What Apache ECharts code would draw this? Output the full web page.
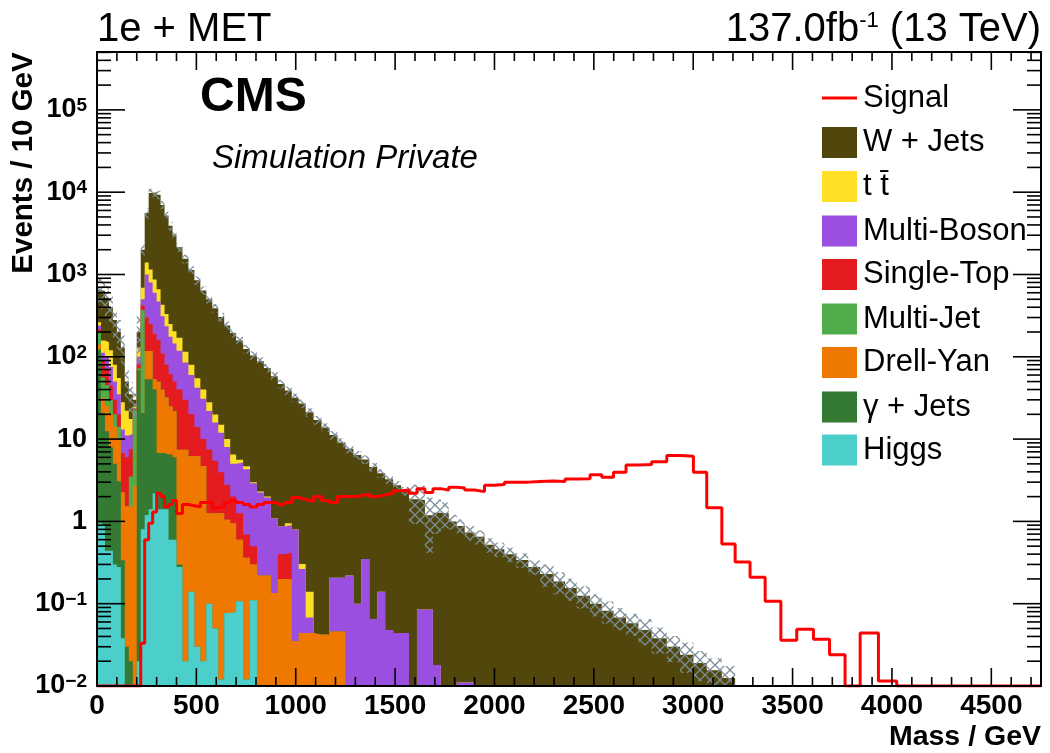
<!DOCTYPE html>
<html><head><meta charset="utf-8">
<script src="https://cdn.jsdelivr.net/npm/echarts@6/dist/echarts.min.js"></script>
<style>html,body{margin:0;padding:0;background:#fff}#c{width:1050px;height:753px}</style>
</head><body><div id="c"></div>
<script>
// ---------------- DATA ----------------
const EDGES = [0,20,40,60,80,100,120,140,160,180,200,220,240,260,280,300,320,340,360,380,400,
  430,460,490,520,550,580,610,640,670,700,735,770,805,840,875,910,945,980,1015,1050,
  1090,1130,1170,1210,1250,1290,1330,1370,1410,1450,1490,1530,1570,1610,1650,1690,1730,1770,1810,1850,
  1900,1950,2000,2050,2110,2170,2230,
  2297,2355,2414,2481,2540,2599,2662,2724,2791,2867,2934,3001,3068,3144,3211,3286,3362,3441,3521,3605,3686,3764,3840,3932,4024,4750];

const WJETS = [387,472,370,280,200,145,102,28,17.5,5.3,
  70,1310,4200,8650,9130,8640,6570,4870,3650,2795,
  1980,1435,1050,795,600,472,370,290,230,188,
  152,120,101,85.7,71,57,46,38,31,26.7,
  21,17,13.8,11,8.9,7.4,6.3,5.3,4.5,3.7,
  3.2,2.7,2.3,1.86,1.74,1.1,1.26,1.26,1.0,0.87,
  0.72,0.65,0.52,0.46,0.40,0.34,0.28,0.23,0.186,0.155,
  0.125,0.10,0.082,0.068,0.058,0.048,0.038,0.030,0.024,0.019,
  0.0155,0.0125];
const TTBAR = [23,46,50,45,30,20,15,11,6,1,
  30,190,400,350,270,190,120,95,75,60,
  52,30,20,13,9,6,4,3,2,1.5,
  0.4,0.4,0.1,0.05,0.05,0,0,0.05,0,0.04,
  0.072];
const MULTIBOSON = [26,23,30,30,20,15,6.3,5,4,0.5,
  20,80,700,550,410,310,200,155,113,95,
  78,55,40,28,21,14.5,10.5,8,5.2,3,
  3.94,3.6,2.4,2.03,1.73,0.96,0.47,0.48,0.76,0.22,
  0.024,0,0,0.16,0.16,0.22,0.1,0.35,0.065,0.14,
  0.048,0.044,0.044,0,0.085,0.085,0.018,0,0,0.011,
  0.011];
const SINGLETOP = [19,33,25,15,10,6,4.5,4.5,4,0.5,
  8,50,183,133,137,110,70,48,37,28,
  32.6,22.6,13.8,7.8,5.3,6.2,4.2,2.7,1.75,1.05,
  0.66,0.33,0.2,0,0,0,0.2,0.22];
const MULTIJET = [54,24,20,10,6,4,0,0,2,20,
  3,350];
const DRELLYAN = [18,11,13,12,9,7,1.9,1.5,1.5,2.7,
  0,0,64,64,13,43,33,25.5,18.5,16,
  7.1,7.4,6.05,6.2,4.7,1.16,1.21,1.25,0.97,0.87,
  0.49,0.35,0.19,0.22,0.22,0.135,0.2,0.2,0.035,0.044,
  0.044,0.042,0.042,0.046,0.046];
const GJETS = [122,20,12,7.5,4.7,2.8,0.3,0.03,0.02,0,
  69,20,52,52,38,5.4,5.4,5.1,5.9,5.4,
  0.02];
const HIGGS = [0.95,0.9,0.44,0.44,0.3,0.28,0.038,0,0,0,
  0.02,0.8,1.2,1.4,2.2,1.4,1.4,1.4,0.6,0.6,
  0.28,0.02,0.14,0.03,0.02,0.1,0.05,0.012,0.077,0.08,
  0.107,0.012,0.11];
const SIGNAL = [0,0,0,0,0,0,0,0,0,0,
  0,0.033,0.6,0.95,1.3,2.2,2.0,1.5,1.6,1.8,
  1.25,1.6,1.55,1.5,1.7,1.7,1.45,1.5,1.7,1.8,
  1.7,1.6,1.5,1.6,1.7,1.7,1.6,1.7,1.95,1.85,
  1.75,2.0,1.8,1.7,2.0,2.0,2.05,2.15,2.0,2.1,
  2.2,2.35,2.4,2.2,2.5,2.25,2.5,2.4,2.6,2.55,
  2.4,2.3,2.75,2.8,3.0,3.0,3.05,3.1,3.05,3.27,
  3.3,3.7,3.45,3.95,4.85,4.9,5.3,6.3,6.2,3.95,
  1.46,0.53,0.32,0.21,0.107,0.036,0.049,0.037,0.024,0,
  0.044,0.0115,0];
// relative MC uncertainty per bin (hatched band)
const REL_ERR = [0.4,0.4,0.4,0.4,0.4,0.4,0.4,0.4,0.4,0.4,
  0.6,0.15,0.15,0.12,0.12,0.12,0.12,0.12,0.12,0.12,
  0.12,0.12,0.12,0.12,0.12,0.12,0.12,0.12,0.12,0.12,
  0.12,0.12,0.12,0.12,0.12,0.12,0.12,0.12,0.12,0.12,
  0.12,0.12,0.12,0.12,0.12,0.12,0.12,0.12,0.12,0.12,
  0.12,0.12,0.12,0.5,0.5,0.65,0.45,0.35,0.2,0.2,
  0.2,0.2,0.2,0.2,0.2,0.2,0.2,0.3,0.3,0.3,
  0.3,0.3,0.3,0.3,0.3,0.35,0.35,0.35,0.4,0.4,
  0.4,0.4];
const X_LABELS = [0,500,1000,1500,2000,2500,3000,3500,4000,4500];
const Y_LABEL_EXPONENTS = [-2,-1,0,1,2,3,4,5];

// ---------------- SETTINGS ----------------
const XMAX = 4750, YMIN = 0.01, YMAX = 5.05e5;
const FONT = '"Liberation Sans", Arial, Helvetica, sans-serif';
const STACK = [ // bottom -> top
  {name:'Higgs', v:HIGGS, color:'#4ccfca'},
  {name:'\u03b3 + Jets', v:GJETS, color:'#357a32'},
  {name:'Drell-Yan', v:DRELLYAN, color:'#ef7800'},
  {name:'Multi-Jet', v:MULTIJET, color:'#4fae4a'},
  {name:'Single-Top', v:SINGLETOP, color:'#e41c1f'},
  {name:'Multi-Boson', v:MULTIBOSON, color:'#9a4fe0'},
  {name:'t t\u0304', v:TTBAR, color:'#fde025'},
  {name:'W + Jets', v:WJETS, color:'#51470c'}
];
const NB = EDGES.length - 1;
const cums = [];
let run = new Array(NB).fill(0);
STACK.forEach(s => { run = run.map((r, i) => r + (s.v[i] || 0)); cums.push(run.slice()); });
const TOTAL = cums[cums.length - 1];

function stepPts(vals, floor) {
  const pts = [];
  for (let i = 0; i < NB; i++) {
    const y = (vals[i] || 0) > 0 ? vals[i] : floor;
    pts.push([EDGES[i], y], [EDGES[i + 1], y]);
  }
  return pts;
}

// hatch pattern for the uncertainty band
const hatch = document.createElement('canvas');
hatch.width = 10; hatch.height = 10;
const hc = hatch.getContext('2d');
hc.strokeStyle = '#7b8e9b'; hc.lineWidth = 1.3;
hc.beginPath(); hc.moveTo(0, 0); hc.lineTo(10, 10); hc.moveTo(10, 0); hc.lineTo(0, 10); hc.stroke();

const series = [];
for (let k = STACK.length - 1; k >= 0; k--) {
  series.push({
    type: 'line', name: STACK[k].name, data: stepPts(cums[k], YMIN * 1e-3),
    showSymbol: false, symbol: 'none', silent: true, z: 2,
    lineStyle: {width: 0, color: STACK[k].color},
    areaStyle: {color: STACK[k].color, opacity: 1, origin: 'start'},
    itemStyle: {color: STACK[k].color}
  });
}
// band
const bandData = [];
for (let i = 0; i < NB; i++) {
  if (TOTAL[i] > 0) bandData.push([EDGES[i], EDGES[i + 1], TOTAL[i] * (1 - REL_ERR[i]), TOTAL[i] * (1 + REL_ERR[i])]);
}
series.push({
  type: 'custom', silent: true, z: 3, data: bandData, encode: {x: [0, 1], y: [2, 3]},
  renderItem: (params, api) => {
    const lo = Math.max(api.value(2), YMIN), hi = Math.min(api.value(3), YMAX);
    if (hi <= YMIN) return null;
    const a = api.coord([api.value(0), lo]), b = api.coord([api.value(1), hi]);
    return {type: 'rect', shape: {x: a[0], y: b[1], width: b[0] - a[0], height: a[1] - b[1]},
      style: {fill: {image: hatch, repeat: 'repeat'}}};
  }
});
// signal
series.push({
  type: 'line', name: 'Signal', data: stepPts(SIGNAL, YMIN), showSymbol: false, symbol: 'none',
  silent: true, z: 4, lineStyle: {width: 3, color: '#ff0000'}
});
// ticks + frame
const tickData = [];
for (let x = 0; x < XMAX; x += 100) tickData.push([x, 1, 0, x % 500 === 0 ? 1 : 0]);
for (let e = -2; e <= 5; e++) {
  tickData.push([0, Math.pow(10, e), 1, 1]);
  for (let m = 2; m <= 9; m++) { const v = m * Math.pow(10, e); if (v < YMAX) tickData.push([0, v, 1, 0]); }
}
tickData.push([0, 1, 2, 0]);
series.push({
  type: 'custom', silent: true, z: 10, data: tickData, encode: {x: 0, y: 1},
  renderItem: (params, api) => {
    const cs = params.coordSys, kind = api.value(2), major = api.value(3);
    const st = {stroke: '#000', lineWidth: 1.6};
    if (kind === 2) {
      return {type: 'rect', shape: {x: cs.x, y: cs.y, width: cs.width, height: cs.height},
        style: {fill: null, stroke: '#000', lineWidth: 2}};
    }
    if (kind === 0) {
      const px = api.coord([api.value(0), 1])[0], L = major ? 18 : 9;
      const yb = cs.y + cs.height, yt = cs.y;
      return {type: 'group', children: [
        {type: 'line', shape: {x1: px, y1: yb, x2: px, y2: yb - L}, style: st},
        {type: 'line', shape: {x1: px, y1: yt, x2: px, y2: yt + L}, style: st}]};
    }
    const py = api.coord([0, api.value(1)])[1], L = major ? 28 : 14;
    const xl = cs.x, xr = cs.x + cs.width;
    return {type: 'group', children: [
      {type: 'line', shape: {x1: xl, y1: py, x2: xl + L, y2: py}, style: st},
      {type: 'line', shape: {x1: xr, y1: py, x2: xr - L, y2: py}, style: st}]};
  }
});

// legend via graphic
const LEG = [
  {name: 'Signal', line: '#ff0000', y: 98},
  {name: 'W + Jets', color: '#51470c', y: 142.5},
  {name: 't t\u0304', color: '#fde025', y: 186.5},
  {name: 'Multi-Boson', color: '#9a4fe0', y: 231},
  {name: 'Single-Top', color: '#e41c1f', y: 274.5},
  {name: 'Multi-Jet', color: '#4fae4a', y: 319},
  {name: 'Drell-Yan', color: '#ef7800', y: 362.5},
  {name: '\u03b3 + Jets', color: '#357a32', y: 407},
  {name: 'Higgs', color: '#4ccfca', y: 450}
];
const graphic = [];
LEG.forEach(l => {
  if (l.line) graphic.push({type: 'line', shape: {x1: 822, y1: l.y, x2: 857, y2: l.y}, style: {stroke: l.line, lineWidth: 3}, z: 20});
  else graphic.push({type: 'rect', shape: {x: 822, y: l.y - 15.5, width: 35, height: 31}, style: {fill: l.color}, z: 20});
  graphic.push({type: 'text', x: 863, y: l.y, z: 20,
    style: {text: l.name, font: '31px ' + FONT, fill: '#000', textAlign: 'left', textVerticalAlign: 'middle', align: 'left', verticalAlign: 'middle'}});
});
graphic.push(
  {type: 'text', x: 97, y: 30, z: 20, style: {text: '1e + MET', font: '40px ' + FONT, fill: '#000', textAlign: 'left', textVerticalAlign: 'middle', align: 'left', verticalAlign: 'middle'}},
  {type: 'text', x: 1041, y: 30, z: 20, style: {text: '137.0fb{s|-1} (13 TeV)', font: '40px ' + FONT, fill: '#000', textAlign: 'right', textVerticalAlign: 'middle', align: 'right', verticalAlign: 'middle',
    rich: {s: {fontSize: 22, fontFamily: FONT, verticalAlign: 'top', fill: '#000'}}}},
  {type: 'text', x: 200, y: 97.5, z: 20, style: {text: 'CMS', font: 'bold 48px ' + FONT, fill: '#000', textAlign: 'left', textVerticalAlign: 'middle', align: 'left', verticalAlign: 'middle'}},
  {type: 'text', x: 212, y: 158.5, z: 20, style: {text: 'Simulation Private', font: 'italic 33px ' + FONT, fill: '#000', textAlign: 'left', textVerticalAlign: 'middle', align: 'left', verticalAlign: 'middle'}},
  {type: 'text', x: 1041, y: 737, z: 20, style: {text: 'Mass / GeV', font: 'bold 28.5px ' + FONT, fill: '#000', textAlign: 'right', textVerticalAlign: 'middle', align: 'right', verticalAlign: 'middle'}},
  {type: 'text', x: 24, y: 163, rotation: Math.PI / 2, z: 20, style: {text: 'Events / 10 GeV', font: 'bold 29.5px ' + FONT, fill: '#000', textAlign: 'center', textVerticalAlign: 'middle', align: 'center', verticalAlign: 'middle'}}
);

const chart = echarts.init(document.getElementById('c'), null, {renderer: 'canvas'});
chart.setOption({
  animation: false,
  backgroundColor: '#ffffff',
  grid: {left: 97, top: 52, right: 9, bottom: 67, containLabel: false, show: false},
  xAxis: {type: 'value', min: 0, max: XMAX, interval: 500,
    axisLine: {show: false}, axisTick: {show: false}, splitLine: {show: false},
    axisLabel: {formatter: v => (X_LABELS.indexOf(v) >= 0 ? String(v) : ''), fontFamily: FONT, fontWeight: 'bold', fontSize: 28, color: '#000', margin: 6}},
  yAxis: {type: 'log', logBase: 10, min: YMIN, max: YMAX,
    axisLine: {show: false}, axisTick: {show: false}, splitLine: {show: false}, minorTick: {show: false},
    axisLabel: {
      margin: 10, color: '#000',
      formatter: v => {
        const e = Math.round(Math.log10(v));
        if (Math.abs(Math.log10(v) - e) > 1e-6 || Y_LABEL_EXPONENTS.indexOf(e) < 0) return '';
        if (e === 0) return '{b|1}';
        if (e === 1) return '{b|10}';
        return '{b|10}{s|' + (e < 0 ? '\u2212' + (-e) : e) + '}';
      },
      rich: {
        b: {fontFamily: FONT, fontWeight: 'bold', fontSize: 27, color: '#000'},
        s: {fontFamily: FONT, fontWeight: 'bold', fontSize: 19, color: '#000', verticalAlign: 'top'}
      }
    }},
  series: series,
  graphic: graphic
});
</script></body></html>
